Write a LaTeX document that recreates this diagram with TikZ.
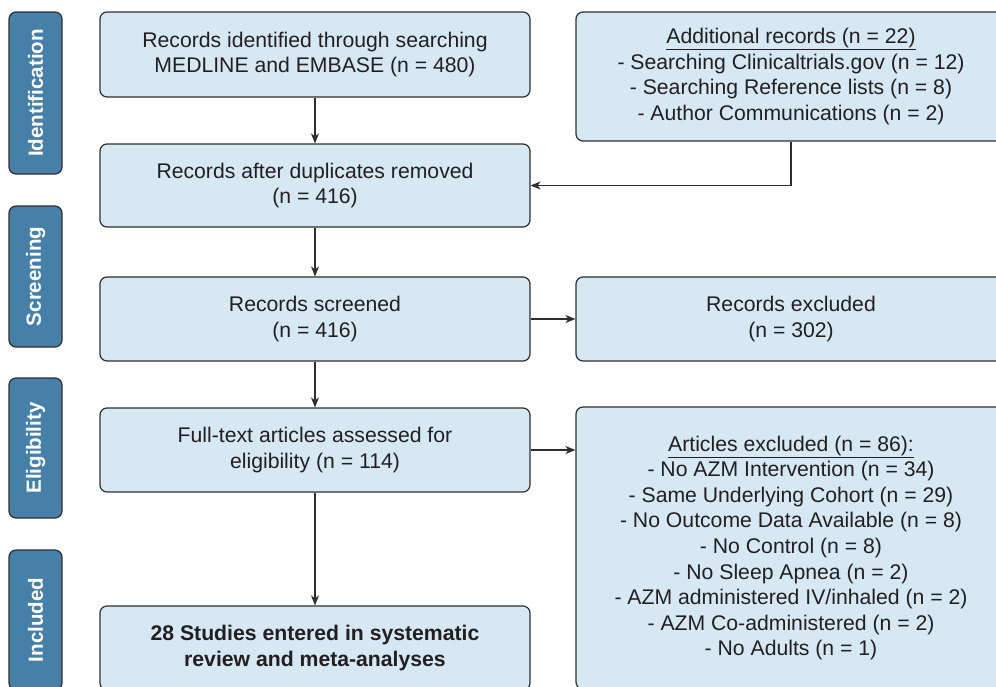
\documentclass[tikz,border=0pt]{standalone}
\usepackage{fontspec}
\setmainfont{Liberation Sans}
\usetikzlibrary{arrows.meta}
\definecolor{boxfill}{HTML}{D6E8F3}
\definecolor{labfill}{HTML}{467FA8}
\definecolor{edge}{HTML}{2E2E2E}
\definecolor{txt}{HTML}{231F20}
\tikzset{
  box/.style={draw=edge, line width=1.2pt, fill=boxfill, rounded corners=7pt,
    minimum width=430pt, align=center, text=txt, inner sep=0pt,
    font=\fontsize{21.2}{25.6}\selectfont},
  lab/.style={draw=edge, line width=1.2pt, fill=labfill, rounded corners=7pt,
    rotate=90, minimum height=53pt, text=white, inner sep=0pt,
    font=\fontsize{20.5}{24}\selectfont\bfseries},
  arr/.style={draw=edge, line width=1.2pt, -{Stealth[length=10pt,width=8pt,inset=3pt]}}
}
\begin{document}
\begin{tikzpicture}[x=1pt,y=-1pt]
\useasboundingbox (0,0) rectangle (996,686);
\clip (0,0) rectangle (996,686);
% stage labels
\node[lab, minimum width=162pt] (lid) at (35.5,93) {Identification};
\node[lab, minimum width=141pt] (lsc) at (35.5,276.5) {Screening};
\node[lab, minimum width=140pt] (lel) at (35.5,448) {Eligibility};
\node[lab, minimum width=140pt] (lin) at (35.5,620) {Included};
% main boxes
\node[box, minimum height=85pt] (b1) at (315,54.5) {Records identified through searching\\MEDLINE and EMBASE (n = 480)};
\node[box, minimum height=83pt] (b2) at (315,185.5) {Records after duplicates removed\\(n = 416)};
\node[box, minimum height=84pt] (b3) at (315,319) {Records screened\\(n = 416)};
\node[box, minimum height=84pt] (b4) at (315,450) {Full-text articles assessed for\\eligibility (n = 114)};
\node[box, minimum height=84pt, font=\fontsize{21.2}{25.6}\selectfont\bfseries] (b5) at (315,648) {28 Studies entered in systematic\\review and meta-analyses};
% side boxes
\node[box, minimum height=129pt] (add) at (791,76.5) {\underline{Additional records (n = 22)}\\- Searching Clinicaltrials.gov (n = 12)\\- Searching Reference lists (n = 8)\\- Author Communications (n = 2)};
\node[box, minimum height=84pt] (exc) at (791,319) {Records excluded\\(n = 302)};
\node[box, minimum height=282pt] (art) at (791,548) {\underline{Articles excluded (n = 86):}\\- No AZM Intervention (n = 34)\\- Same Underlying Cohort (n = 29)\\- No Outcome Data Available (n = 8)\\- No Control (n = 8)\\- No Sleep Apnea (n = 2)\\- AZM administered IV/inhaled (n = 2)\\- AZM Co-administered (n = 2)\\- No Adults (n = 1)};
% connectors
\draw[arr] (b1.south) -- (b2.north);
\draw[arr] (b2.south) -- (b3.north);
\draw[arr] (b3.south) -- (b4.north);
\draw[arr] (b4.south) -- (b5.north);
\draw[arr] (add.south) |- (b2.east);
\draw[arr] (b3.east) -- (exc.west);
\draw[arr] (b4.east) -- (b4.east -| art.west);
\end{tikzpicture}
\end{document}
